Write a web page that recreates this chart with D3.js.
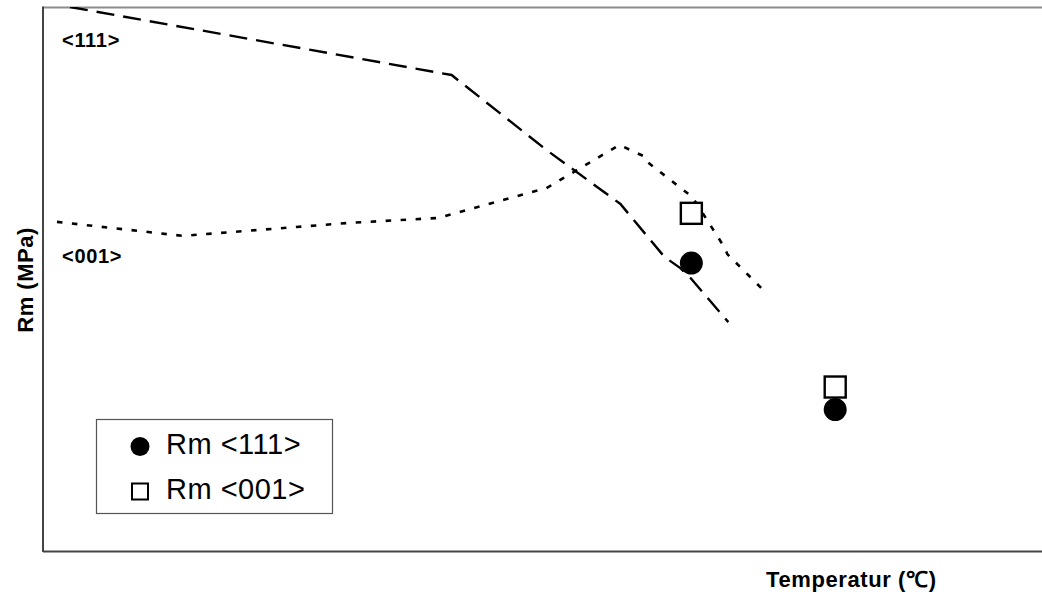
<!DOCTYPE html>
<html>
<head>
<meta charset="utf-8">
<script src="https://cdn.jsdelivr.net/npm/d3@7"></script>
<style>
  html, body { margin: 0; padding: 0; background: #fff; }
  svg { display: block; }
  text { font-family: "Liberation Sans", Arial, Helvetica, sans-serif; }
</style>
</head>
<body>
<svg id="chart" width="1042" height="594"></svg>
<script>
// Strength curves (Rm, MPa) against temperature (°C)
const curve111T  = [27, 409, 504, 578, 622, 638, 648, 686];
const curve111Rm = [1400, 1225, 1032, 893, 757, 728, 703, 589];

const curve001T  = [14, 140, 304, 395, 504, 577, 603, 605, 650, 682, 685, 722];
const curve001Rm = [847, 811, 844, 857, 934, 1045, 1014, 1001, 911, 782, 764, 669];

// Measured points
const pointT      = [649, 793];
const pointRm111  = [741, 364];
const pointRm001  = [869, 422];

const curveLabels  = ["<111>", "<001>"];
const legendLabels = ["Rm <111>", "Rm <001>"];
const xTitle = "Temperatur (\u2103)";
const yTitle = "Rm (MPa)";

const W = 1042, H = 594;
const plot = { left: 43, right: 1042, top: 7, bottom: 551 };

const x = d3.scaleLinear().domain([0, 1000]).range([plot.left, plot.right]);
const y = d3.scaleLinear().domain([0, 1400]).range([plot.bottom, plot.top]);

const svg = d3.select("#chart");

// Frame: grey top edge, dark left and bottom axes
svg.append("line")
  .attr("x1", plot.left).attr("x2", W)
  .attr("y1", plot.top + 0.5).attr("y2", plot.top + 0.5)
  .attr("stroke", "#8c8c8c").attr("stroke-width", 2);
svg.append("line")
  .attr("x1", plot.left).attr("x2", plot.left)
  .attr("y1", plot.top - 0.5).attr("y2", plot.bottom + 1)
  .attr("stroke", "#444").attr("stroke-width", 2);
svg.append("line")
  .attr("x1", plot.left).attr("x2", W)
  .attr("y1", plot.bottom + 0.5).attr("y2", plot.bottom + 0.5)
  .attr("stroke", "#444").attr("stroke-width", 2);

svg.append("clipPath").attr("id", "plotClip")
  .append("rect")
  .attr("x", plot.left).attr("y", plot.top)
  .attr("width", plot.right - plot.left).attr("height", plot.bottom - plot.top);

const line = d3.line().x(d => x(d[0])).y(d => y(d[1]));
const g = svg.append("g").attr("clip-path", "url(#plotClip)");

g.append("path")
  .datum(d3.zip(curve111T, curve111Rm))
  .attr("d", line)
  .attr("fill", "none").attr("stroke", "#000")
  .attr("stroke-width", 2.4).attr("stroke-dasharray", "18 9");

g.append("path")
  .datum(d3.zip(curve001T, curve001Rm))
  .attr("d", line)
  .attr("fill", "none").attr("stroke", "#000")
  .attr("stroke-width", 2.6).attr("stroke-dasharray", "5.5 9.5");

// Square markers (<001>)
const sq = 21;
g.selectAll("rect.p001")
  .data(d3.zip(pointT, pointRm001))
  .join("rect")
  .attr("class", "p001")
  .attr("x", d => x(d[0]) - sq / 2).attr("y", d => y(d[1]) - sq / 2)
  .attr("width", sq).attr("height", sq)
  .attr("fill", "#fff").attr("stroke", "#000").attr("stroke-width", 2.4);

// Circle markers (<111>)
g.selectAll("circle.p111")
  .data(d3.zip(pointT, pointRm111))
  .join("circle")
  .attr("class", "p111")
  .attr("cx", d => x(d[0])).attr("cy", d => y(d[1]))
  .attr("r", 11.5).attr("fill", "#000");

// Curve labels
svg.append("text").text(curveLabels[0])
  .attr("x", 62).attr("y", 47)
  .attr("font-size", 20).attr("letter-spacing", 0.7)
  .attr("font-weight", "bold").attr("fill", "#000");
svg.append("text").text(curveLabels[1])
  .attr("x", 62).attr("y", 263)
  .attr("font-size", 20).attr("letter-spacing", 0.7)
  .attr("font-weight", "bold").attr("fill", "#000");

// Axis titles
svg.append("text").text(xTitle)
  .attr("x", 766).attr("y", 587)
  .attr("font-size", 22).attr("letter-spacing", 0.6)
  .attr("font-weight", "bold").attr("fill", "#000");
svg.append("text").text(yTitle)
  .attr("transform", "translate(33,280) rotate(-90)")
  .attr("text-anchor", "middle")
  .attr("font-size", 22).attr("letter-spacing", 0.5)
  .attr("font-weight", "bold").attr("fill", "#000");

// Legend
const lg = svg.append("g");
lg.append("rect")
  .attr("x", 96.5).attr("y", 419.5).attr("width", 236).attr("height", 94)
  .attr("fill", "#fff").attr("stroke", "#555").attr("stroke-width", 1.2);
lg.append("circle").attr("cx", 140).attr("cy", 446.5).attr("r", 9.5).attr("fill", "#000");
lg.append("rect")
  .attr("x", 132).attr("y", 483.5).attr("width", 16).attr("height", 16)
  .attr("fill", "#fff").attr("stroke", "#000").attr("stroke-width", 2);
lg.selectAll("text.lt")
  .data(legendLabels)
  .join("text")
  .attr("class", "lt")
  .attr("x", 166).attr("y", (d, i) => 454 + i * 45)
  .attr("font-size", 29).attr("letter-spacing", 0.5).attr("fill", "#000")
  .text(d => d);
</script>
</body>
</html>
